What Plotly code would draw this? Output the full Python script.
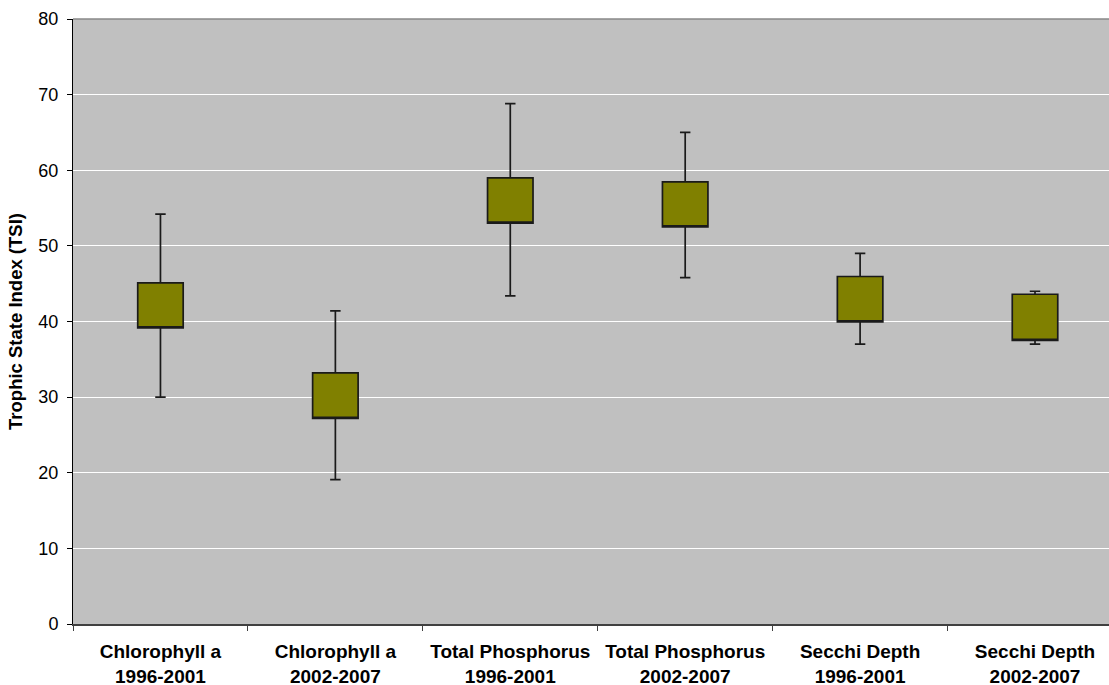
import plotly.graph_objects as go

categories = ["Chlorophyll a<br>1996-2001", "Chlorophyll a<br>2002-2007",
              "Total Phosphorus<br>1996-2001", "Total Phosphorus<br>2002-2007",
              "Secchi Depth<br>1996-2001", "Secchi Depth<br>2002-2007"]
whisker_low = [30.0, 19.1, 43.4, 45.8, 37.0, 37.0]
box_low = [39.15, 27.2, 53.0, 52.5, 39.95, 37.5]
box_high = [45.1, 33.2, 59.0, 58.45, 45.95, 43.6]
whisker_high = [54.2, 41.4, 68.8, 65.0, 49.0, 44.0]
y_ticks = [0, 10, 20, 30, 40, 50, 60, 70, 80]

fig = go.Figure()
fig.add_trace(go.Box(
    x=categories,
    q1=box_low, median=box_low, q3=box_high,
    lowerfence=whisker_low, upperfence=whisker_high,
    boxpoints=False,
    width=0.26,
    whiskerwidth=0.23,
    fillcolor="#808000",
    line=dict(color="#1a1a1a", width=1.7),
    showlegend=False,
    hoverinfo="skip",
))

fig.update_layout(
    width=1109, height=685,
    margin=dict(l=73, r=0, t=19, b=61),
    paper_bgcolor="white",
    plot_bgcolor="#C0C0C0",
    font=dict(family="Liberation Sans, Arial, sans-serif", color="black"),
    xaxis=dict(
        type="category",
        range=[-0.5, 5.423],
        automargin=False,
        showgrid=False,
        showline=True, linecolor="#404040", linewidth=2,
        ticks="outside", tickson="boundaries", ticklen=5, tickcolor="#404040",
        tickfont=dict(size=19, family="Liberation Sans, Arial, sans-serif"),
        tickprefix="<b>", ticksuffix="</b>",
        ticklabelstandoff=9,
        fixedrange=True,
    ),
    yaxis=dict(
        range=[0, 80],
        automargin=False,
        tickvals=y_ticks,
        showgrid=True, gridcolor="white", gridwidth=1,
        zeroline=False,
        showline=True, linecolor="black", linewidth=1,
        ticks="outside", ticklen=5, tickcolor="black",
        tickfont=dict(size=18),
        ticklabelstandoff=5,
        title=dict(text="<b>Trophic State Index (TSI)</b>", font=dict(size=18.5), standoff=10),
        fixedrange=True,
    ),
    shapes=[dict(type="line", xref="x domain", yref="y domain", x0=0, x1=1, y0=1, y1=1,
                 line=dict(color="#888888", width=1.5))],
)

fig.write_html("out.html", config={"displayModeBar": False},
               post_script="document.body.style.margin='0';")
